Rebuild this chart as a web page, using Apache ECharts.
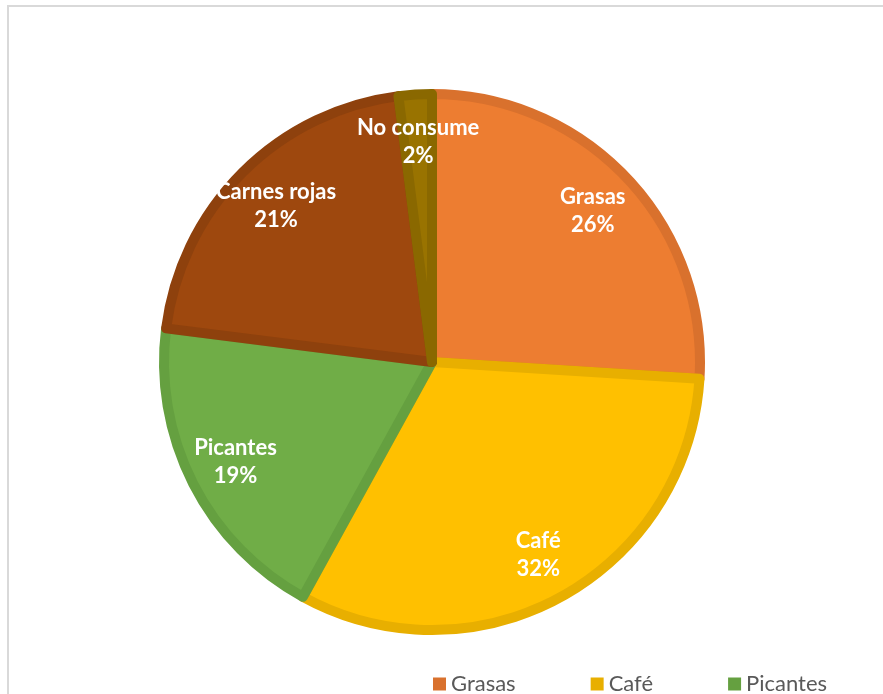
<!DOCTYPE html>
<html>
<head>
<meta charset="utf-8">
<script src="https://cdn.jsdelivr.net/npm/echarts@6/dist/echarts.min.js"></script>
<style>
  html, body { margin: 0; padding: 0; background: #ffffff; }
  #frame { position: absolute; left: 7px; top: 5px; width: 1000px; height: 1000px; border: 2px solid #d9d9d9; box-sizing: border-box; }
  #chart { position: absolute; left: 0; top: 0; width: 883px; height: 694px; }
</style>
</head>
<body>
<div id="frame"></div>
<div id="chart"></div>
<script>
const categories = ['Grasas', 'Café', 'Picantes', 'Carnes rojas', 'No consume'];
const values = [26, 32, 19, 21, 2];
const fillColors = ['#ED7D31', '#FFC000', '#70AD47', '#9E480E', '#997300'];
const borderColors = ['#D9712D', '#E8AF00', '#65A040', '#8E410D', '#8A6800'];

const chart = echarts.init(document.getElementById('chart'), null, { renderer: 'canvas' });

const mainData = categories.map((c, i) => ({
  name: c,
  value: values[i],
  itemStyle: { color: fillColors[i], borderColor: borderColors[i], borderWidth: 10 }
}));
const labelData = categories.map((c, i) => ({ name: c, value: values[i] }));

chart.setOption({
  backgroundColor: 'transparent',
  animation: false,
  legend: {
    left: 433,
    top: 671,
    width: 445,
    padding: 0,
    itemWidth: 13,
    itemHeight: 13,
    itemGap: 75,
    icon: 'rect',
    textStyle: { fontFamily: 'Lato', fontSize: 22, color: '#595959', lineHeight: 26 },
    data: categories.map((c, i) => ({ name: c, itemStyle: { color: borderColors[i], borderWidth: 0 } }))
  },
  series: [
    {
      type: 'pie',
      center: [432, 362],
      radius: [0, 268],
      startAngle: 90,
      clockwise: true,
      label: { show: false },
      labelLine: { show: false },
      emphasis: { disabled: true },
      data: mainData
    },
    {
      type: 'pie',
      center: [432, 362],
      radius: [165, 270],
      startAngle: 90,
      clockwise: true,
      silent: true,
      itemStyle: { color: 'transparent', borderWidth: 0 },
      emphasis: { disabled: true },
      label: {
        show: true,
        position: 'inside',
        formatter: '{b}\n{d}%',
        fontFamily: 'Lato',
        fontWeight: 'bold',
        fontSize: 22,
        lineHeight: 28,
        color: '#ffffff'
      },
      labelLine: { show: false },
      data: labelData
    }
  ]
});
</script>
</body>
</html>
